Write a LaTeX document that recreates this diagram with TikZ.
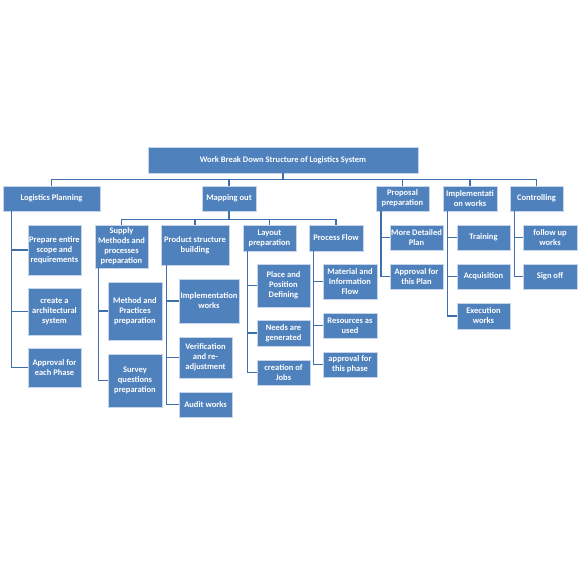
\documentclass[tikz,border=0pt]{standalone}
\usepackage{fontspec}
\setmainfont{Carlito}
\definecolor{boxfill}{HTML}{4F81BD}
\definecolor{boxedge}{HTML}{C6D5EA}
\definecolor{linkc}{HTML}{416FAE}
\tikzset{
  wbs/.style={rectangle, fill=boxfill, draw=boxedge, line width=0.8pt, text=white,
    font=\fontsize{8.5}{10}\selectfont\bfseries, align=center, inner sep=0.3pt},
  link/.style={draw=linkc, line width=1.4pt}
}
\begin{document}
\begin{tikzpicture}[x=1pt,y=-1pt]
\useasboundingbox (0,0) rectangle (580,564);
\fill[white] (0,0) rectangle (580,564);
% title and level 1
\node[wbs, minimum width=270pt, minimum height=26pt] (title) at (283,160) {Work Break Down Structure of Logistics System};
\node[wbs, minimum width=97pt, minimum height=25pt] (lp) at (51.5,198.5) {Logistics Planning};
\node[wbs, minimum width=54pt, minimum height=25pt] (mo) at (229,198.5) {Mapping out};
\node[wbs, minimum width=53pt, minimum height=25pt] (pp) at (402.5,198.5) {Proposal\\preparation};
\node[wbs, minimum width=54pt, minimum height=25pt] (iw) at (470,198.5) {Implementati\\on works};
\node[wbs, minimum width=53pt, minimum height=25pt] (ct) at (536.5,198.5) {Controlling};
% mapping out children
\node[wbs, minimum width=53pt, minimum height=43pt] (sup) at (121.5,246.5) {Supply\\Methods and\\processes\\preparation};
\node[wbs, minimum width=68pt, minimum height=40pt] (psb) at (195,245) {Product structure\\building};
\node[wbs, minimum width=53pt, minimum height=26pt] (lay) at (269.5,238) {Layout\\preparation};
\node[wbs, minimum width=54pt, minimum height=26pt] (pf) at (336,238) {Process Flow};
% logistics planning children
\node[wbs, minimum width=53pt, minimum height=50pt] (prep) at (54.5,250) {Prepare entire\\scope and\\requirements};
\node[wbs, minimum width=53pt, minimum height=47pt] (arch) at (54.5,311.5) {create a\\architectural\\system};
\node[wbs, minimum width=53pt, minimum height=39pt] (apph) at (54.5,367.5) {Approval for\\each Phase};
% supply children
\node[wbs, minimum width=54pt, minimum height=58pt] (meth) at (135,311) {Method and\\Practices\\preparation};
\node[wbs, minimum width=54pt, minimum height=53pt] (surv) at (135,380.5) {Survey\\questions\\preparation};
% product children
\node[wbs, minimum width=60pt, minimum height=44pt] (impw) at (209,301) {Implementation\\works};
\node[wbs, minimum width=53pt, minimum height=41pt] (ver) at (205.5,357.5) {Verification\\and re-\\adjustment};
\node[wbs, minimum width=53pt, minimum height=25pt] (aud) at (205.5,404.5) {Audit works};
% layout children
\node[wbs, minimum width=53pt, minimum height=43pt] (place) at (283.5,285.5) {Place and\\Position\\Defining};
\node[wbs, minimum width=53pt, minimum height=26pt] (needs) at (283.5,333) {Needs are\\generated};
\node[wbs, minimum width=53pt, minimum height=25pt] (jobs) at (283.5,372.5) {creation of\\Jobs};
% process flow children
\node[wbs, minimum width=54pt, minimum height=35pt] (mat) at (350,281.5) {Material and\\Information\\Flow};
\node[wbs, minimum width=54pt, minimum height=25pt] (res) at (350,325.5) {Resources as\\used};
\node[wbs, minimum width=54pt, minimum height=25pt] (apps) at (350,364.5) {approval for\\this phase};
% proposal children
\node[wbs, minimum width=53pt, minimum height=25pt] (more) at (416.5,237.5) {More Detailed\\Plan};
\node[wbs, minimum width=53pt, minimum height=25pt] (appl) at (416.5,276.5) {Approval for\\this Plan};
% implementation children
\node[wbs, minimum width=53pt, minimum height=25pt] (tr) at (483.5,237.5) {Training};
\node[wbs, minimum width=53pt, minimum height=25pt] (acq) at (483.5,276.5) {Acquisition};
\node[wbs, minimum width=53pt, minimum height=26pt] (exe) at (483.5,316) {Execution\\works};
% controlling children
\node[wbs, minimum width=54pt, minimum height=25pt] (fol) at (550,237.5) {follow up\\works};
\node[wbs, minimum width=54pt, minimum height=25pt] (sign) at (550,276.5) {Sign off};
% connectors level 1
\foreach \c in {lp,mo,pp,iw,ct}{
  \draw[link] (title.south) -- ++(0,6) -| (\c.north);
}
% mapping out bus
\foreach \c in {sup,psb,lay,pf}{
  \draw[link] (mo.south) -- ++(0,8) -| (\c.north);
}
% side connectors
\foreach \c in {prep,arch,apph}{ \draw[link] ([xshift=9pt]lp.south west) |- (\c.west); }
\foreach \c in {meth,surv}{ \draw[link] ([xshift=4pt]sup.south west) |- (\c.west); }
\foreach \c in {impw,ver,aud}{ \draw[link] ([xshift=6pt]psb.south west) |- (\c.west); }
\foreach \c in {place,needs,jobs}{ \draw[link] ([xshift=5pt]lay.south west) |- (\c.west); }
\foreach \c in {mat,res,apps}{ \draw[link] ([xshift=5pt]pf.south west) |- (\c.west); }
\foreach \c in {more,appl}{ \draw[link] ([xshift=5.5pt]pp.south west) |- (\c.west); }
\foreach \c in {tr,acq,exe}{ \draw[link] ([xshift=5pt]iw.south west) |- (\c.west); }
\foreach \c in {fol,sign}{ \draw[link] ([xshift=5pt]ct.south west) |- (\c.west); }
\end{tikzpicture}
\end{document}
